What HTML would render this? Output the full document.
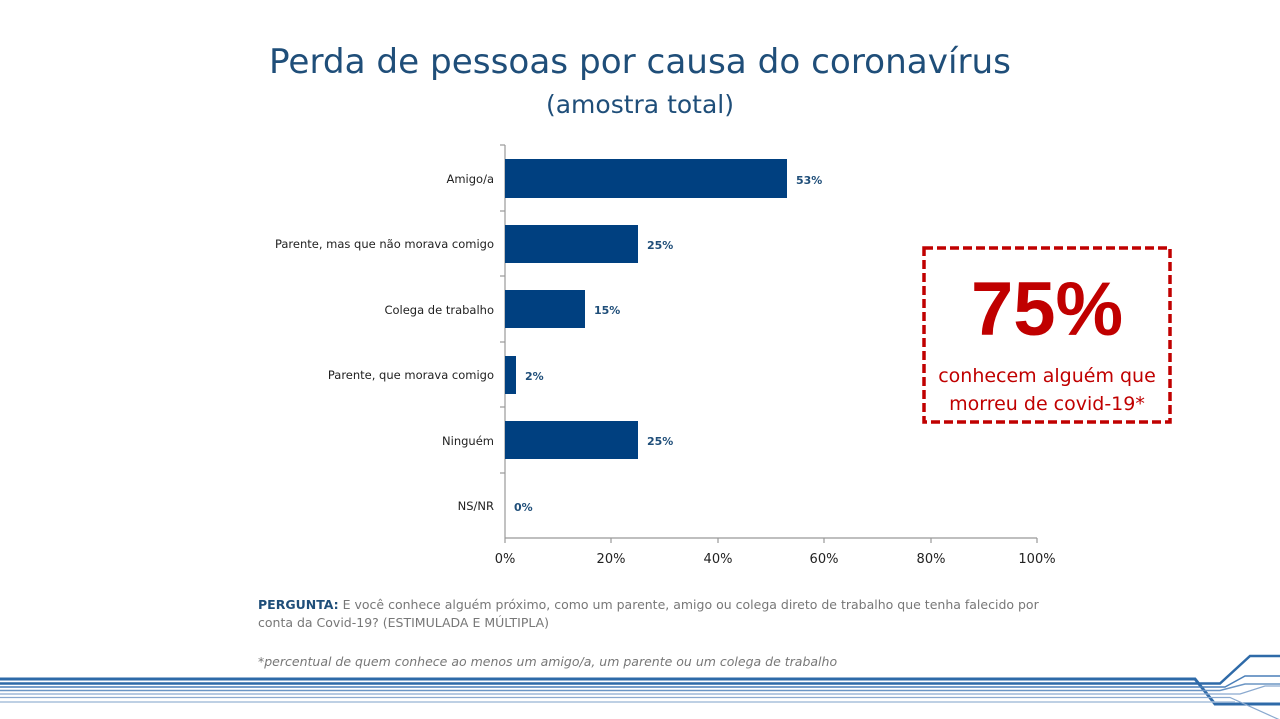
<!DOCTYPE html>
<html><head><meta charset="utf-8"><style>
body{margin:0;width:1280px;height:719px;background:#fff;overflow:hidden;font-family:"DejaVu Sans","Liberation Sans",sans-serif}
svg{position:absolute;left:0;top:0}
</style></head><body>
<svg width="1280" height="719" viewBox="0 0 1280 719">
<text x="640" y="73" text-anchor="middle" font-family="DejaVu Sans, sans-serif" font-size="34" fill="#1f4e79" textLength="742" lengthAdjust="spacingAndGlyphs">Perda de pessoas por causa do coronavírus</text>
<text x="640" y="113" text-anchor="middle" font-family="DejaVu Sans, sans-serif" font-size="25" fill="#1f4e79">(amostra total)</text>
<g stroke="#999" stroke-width="1.2">
<line x1="505" y1="145" x2="505" y2="538"/>
<line x1="505" y1="538" x2="1037" y2="538"/>
<line x1="500" y1="145" x2="505" y2="145"/><line x1="500" y1="211" x2="505" y2="211"/><line x1="500" y1="276" x2="505" y2="276"/><line x1="500" y1="342" x2="505" y2="342"/><line x1="500" y1="407" x2="505" y2="407"/><line x1="500" y1="473" x2="505" y2="473"/>
<line x1="505" y1="538" x2="505" y2="543"/><line x1="611" y1="538" x2="611" y2="543"/><line x1="718" y1="538" x2="718" y2="543"/><line x1="824" y1="538" x2="824" y2="543"/><line x1="931" y1="538" x2="931" y2="543"/><line x1="1037" y1="538" x2="1037" y2="543"/>
</g>
<g fill="#004080">
<rect x="505" y="159" width="282" height="39"/>
<rect x="505" y="225" width="133" height="38"/>
<rect x="505" y="290" width="80" height="38"/>
<rect x="505" y="356" width="11" height="38"/>
<rect x="505" y="421" width="133" height="38"/>
</g>
<g font-size="11.5" fill="#222" text-anchor="end">
<text x="494" y="183">Amigo/a</text>
<text x="494" y="248">Parente, mas que não morava comigo</text>
<text x="494" y="314">Colega de trabalho</text>
<text x="494" y="379">Parente, que morava comigo</text>
<text x="494" y="445">Ninguém</text>
<text x="494" y="510">NS/NR</text>
</g>
<g font-size="11" font-weight="bold" fill="#1f4e79">
<text x="796" y="184">53%</text>
<text x="647" y="249">25%</text>
<text x="594" y="314">15%</text>
<text x="525" y="380">2%</text>
<text x="647" y="445">25%</text>
<text x="514" y="511">0%</text>
</g>
<g font-size="13" fill="#222" text-anchor="middle">
<text x="505" y="563">0%</text><text x="611" y="563">20%</text><text x="718" y="563">40%</text><text x="824" y="563">60%</text><text x="931" y="563">80%</text><text x="1037" y="563">100%</text>
</g>
<rect x="924" y="248" width="246" height="174" fill="none" stroke="#c00000" stroke-width="3.5" stroke-dasharray="9,4"/>
<text x="1047" y="335" text-anchor="middle" font-family="Liberation Sans, sans-serif" font-weight="bold" font-size="76" fill="#c00000">75%</text>
<text x="1047" y="382" text-anchor="middle" font-size="19" fill="#c00000">conhecem alguém que</text>
<text x="1047" y="410" text-anchor="middle" font-size="19" fill="#c00000">morreu de covid-19*</text>
<text x="258" y="609" font-size="12.5" fill="#777"><tspan font-weight="bold" fill="#1f4e79">PERGUNTA:</tspan> E você conhece alguém próximo, como um parente, amigo ou colega direto de trabalho que tenha falecido por</text>
<text x="258" y="627" font-size="12.5" fill="#777">conta da Covid-19? (ESTIMULADA E MÚLTIPLA)</text>
<text x="258" y="666" font-size="12.5" font-style="italic" fill="#777">*percentual de quem conhece ao menos um amigo/a, um parente ou um colega de trabalho</text>
<g fill="none">
<path d="M0 679 H1195 L1215 704 H1280" stroke="#2e6aa8" stroke-width="3"/>
<path d="M0 683.5 H1220 L1250 656 H1280" stroke="#2e6aa8" stroke-width="2.5"/>
<path d="M0 687 H1225 L1245 676 H1280" stroke="#4a7fb8" stroke-width="1.5"/>
<path d="M0 690.5 H1220 L1245 684 H1280" stroke="#6b95c4" stroke-width="1.5"/>
<path d="M0 694 H1240 L1265 686 H1280" stroke="#8aa9cf" stroke-width="1.2"/>
<path d="M0 697.5 H1230 L1280 720" stroke="#8aa9cf" stroke-width="1.2"/>
<path d="M0 702 H1235" stroke="#a9c0dc" stroke-width="1.5"/>
</g>
</svg>
</body></html>
